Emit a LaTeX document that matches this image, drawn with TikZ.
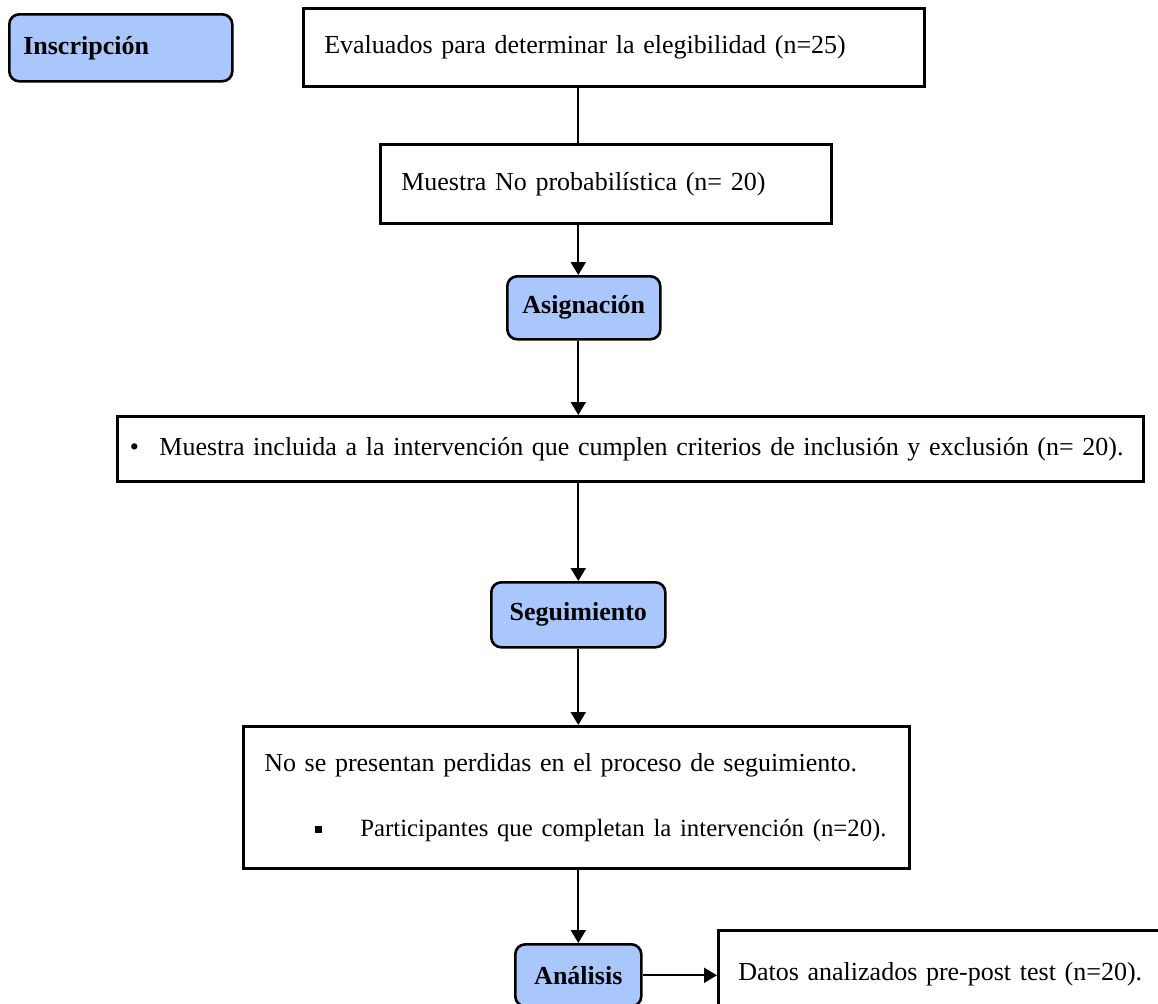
\documentclass[tikz,border=0pt]{standalone}
\usepackage{fontspec}
\setmainfont{Liberation Serif}
\usepackage{tikz}
\usetikzlibrary{arrows.meta}
\definecolor{faseazul}{RGB}{169,199,253}

\begin{document}
\begin{tikzpicture}[x=0.5pt, y=-0.5pt,
    caja/.style={draw, line width=1.3pt, anchor=north west, align=left, inner ysep=0pt, inner xsep=10.5pt, font=\fontsize{13}{16}\selectfont},
    fase/.style={draw, line width=1.3pt, anchor=north west, fill=faseazul, rounded corners=5pt, inner sep=0pt, font=\fontsize{13}{16}\selectfont\bfseries},
    flecha/.style={line width=1pt, -{Triangle[length=6.5pt,width=7.5pt]}}]
    \useasboundingbox (0,0) rectangle (1158,1003);
    \clip (0,0) rectangle (1158,1003);
    \node[fase, minimum width=111.5pt, minimum height=33.5pt, text width=97.5pt, inner xsep=7pt, align=left] (insc) at (8,13) {Inscripción};
    \node[caja, text width=289.5pt, minimum height=39pt] (eval) at (302,7) {Evaluados para determinar la elegibilidad (n=25)};
    \node[caja, text width=204.5pt, minimum height=39.5pt] (muestra) at (379,143) {Muestra No probabilística (n= 20)};
    \node[fase, minimum width=76.5pt, minimum height=31.5pt] (asig) at (506,275) {Asignación};
    \node[caja, text width=503pt, inner xsep=5pt, minimum height=32.5pt] (incl) at (116,415) {\mbox{\hspace*{1.25pt}\textbullet\hspace{10.25pt}Muestra incluida a la intervención que cumplen criterios de inclusión y exclusión (n= 20).}};
    \node[fase, minimum width=87pt, minimum height=32.5pt] (seg) at (490,581) {Seguimiento};
    \node[caja, text width=312pt, minimum height=71pt] (perd) at (242,725) {No se presentan perdidas en el proceso de seguimiento.\\[16.5pt]\mbox{\fontsize{12.4}{16}\selectfont\hspace*{25.25pt}\raisebox{1.5pt}{\rule{3.5pt}{3.5pt}}\hspace{19.25pt}Participantes que completan la intervención (n=20).}};
    \node[fase, minimum width=63pt, minimum height=31pt] (anal) at (514,943) {Análisis};
    \node[caja, text width=230pt, inner xsep=10pt, minimum height=44pt] (datos) at (717,929) {Datos analizados pre-post test (n=20).};
    \draw[line width=1pt] (eval.south -| seg.north) -- (muestra.north -| seg.north);
    \draw[flecha] (muestra.south -| seg.north) -- (asig.north -| seg.north);
    \draw[flecha] (asig.south -| seg.north) -- (incl.north -| seg.north);
    \draw[flecha] (incl.south -| seg.north) -- (seg.north);
    \draw[flecha] (seg.south) -- (perd.north -| seg.south);
    \draw[flecha] (perd.south -| anal.north) -- (anal.north);
    \draw[flecha] (anal.east) -- (anal.east -| datos.west);
\end{tikzpicture}
\end{document}
